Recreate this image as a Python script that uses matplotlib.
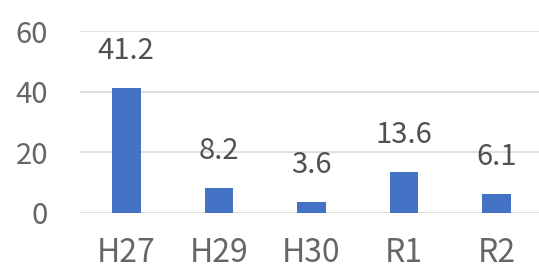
import matplotlib.pyplot as plt

plt.rcParams['font.family'] = ['Noto Sans CJK JP', 'DejaVu Sans']

years = ["H27", "H29", "H30", "R1", "R2"]
values = [41.2, 8.2, 3.6, 13.6, 6.1]
y_ticks = [0, 20, 40, 60]

fig = plt.figure(figsize=(5.39, 2.68), dpi=100)
ax = fig.add_axes([80 / 539, 55 / 268, 463 / 539, 182 / 268])

bars = ax.bar(years, values, width=0.31, color="#4472C4", zorder=3)

# value labels sit well above each bar
for rect, v in zip(bars, values):
    ax.annotate(f"{v}", (rect.get_x() + rect.get_width() / 2, rect.get_height()),
                xytext=(0, 16), textcoords="offset points",
                ha="center", va="bottom", fontsize=21, color="#505050")

ax.set_ylim(0, 60)
ax.set_xlim(-0.5, len(years) - 0.5)
ax.set_yticks(y_ticks)
ax.yaxis.grid(True, color="#d9d9d9", linewidth=1.2, zorder=0)
ax.set_axisbelow(True)

for s in ax.spines.values():
    s.set_visible(False)

ax.tick_params(axis="y", length=0, pad=23, labelsize=21, labelcolor="#666666")
ax.tick_params(axis="x", length=0, pad=17, labelsize=23, labelcolor="#666666")

fig.savefig("out.png", dpi=100)
